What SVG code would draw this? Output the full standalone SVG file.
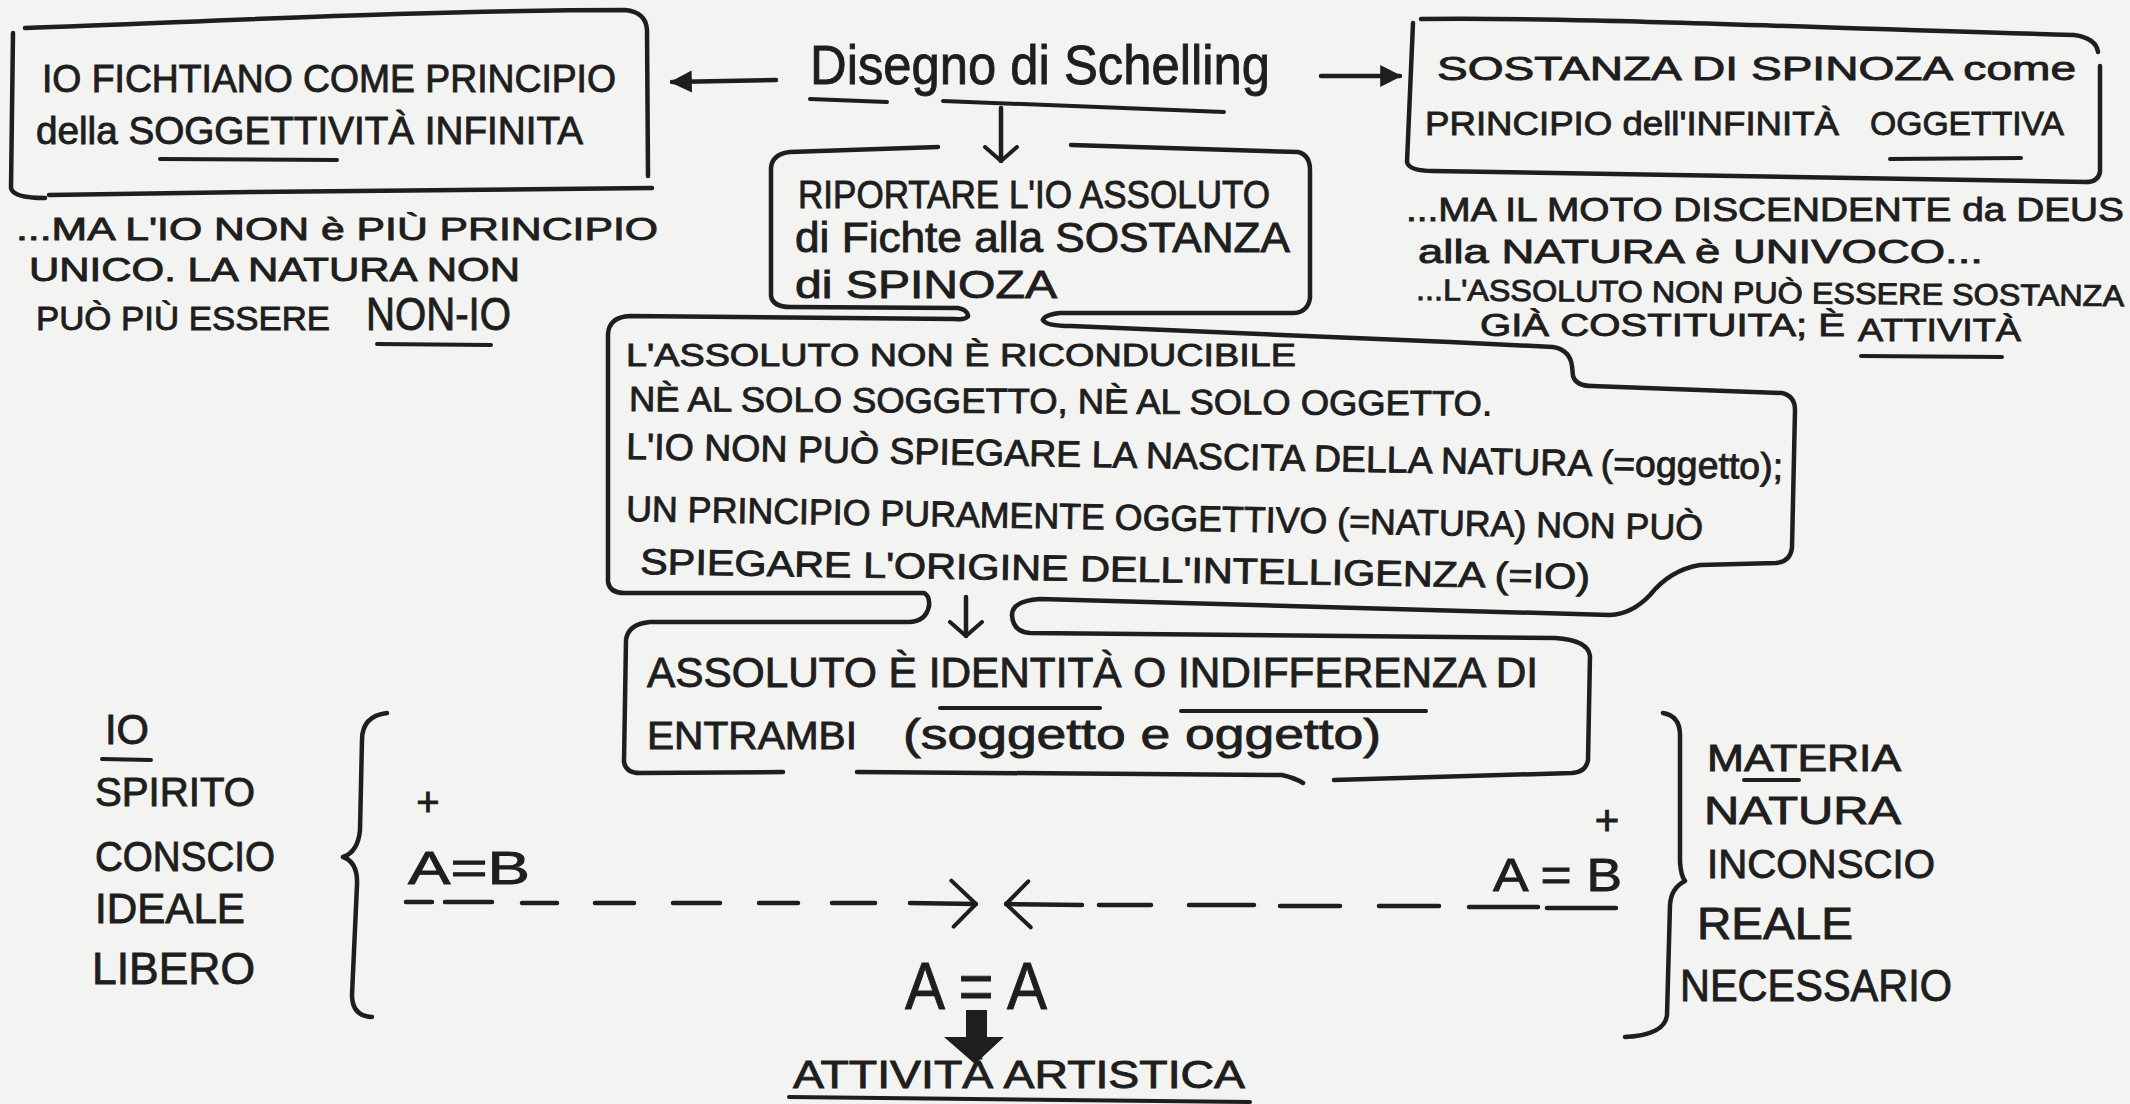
<svg xmlns="http://www.w3.org/2000/svg" width="2130" height="1104" viewBox="0 0 2130 1104">
<style>
.ink{fill:none;stroke:#1e1e1e;stroke-width:4.5;stroke-linecap:round;stroke-linejoin:round}
.ul{fill:none;stroke:#1e1e1e;stroke-width:4;stroke-linecap:round}
.t{font-family:"Liberation Sans",Arial,sans-serif;fill:#1e1e1e;stroke:#1e1e1e;stroke-width:0.9}
</style>
<defs>
<marker id="fillhead" viewBox="0 0 10 10" refX="9" refY="5" markerUnits="userSpaceOnUse" markerWidth="22" markerHeight="26" orient="auto"><path d="M0,0 L10,5 L0,10 Z" fill="#1e1e1e"/></marker>
<marker id="vhead" viewBox="0 0 18 36" refX="16" refY="18" markerUnits="userSpaceOnUse" markerWidth="18" markerHeight="36" orient="auto"><path d="M2,2 L16,18 L2,34" fill="none" stroke="#1e1e1e" stroke-width="4" stroke-linecap="round" stroke-linejoin="round"/></marker>
<marker id="chev" viewBox="0 0 30 52" refX="28" refY="26" markerUnits="userSpaceOnUse" markerWidth="30" markerHeight="52" orient="auto"><path d="M3,3 L28,26 L6,49" fill="none" stroke="#1e1e1e" stroke-width="4" stroke-linecap="round" stroke-linejoin="round"/></marker>
</defs>
<rect width="2130" height="1104" fill="#f3f3f1"/>

<g id="n-fichte">
<path class="ink" d="M25,28 C200,22 420,10 625,10 Q646,12 647,30 L648,176"/>
<path class="ink" d="M13,33 L11,188 Q13,198 45,198"/>
<path class="ink" d="M49,195 C250,192 450,189 652,188"/>
<text class="t" x="42" y="92" font-size="38" textLength="574" lengthAdjust="spacingAndGlyphs">IO FICHTIANO COME PRINCIPIO</text>
<text class="t" x="36" y="144" font-size="38" textLength="547" lengthAdjust="spacingAndGlyphs">della SOGGETTIVITÀ INFINITA</text>
<path class="ul" d="M160,159 L337,160"/>
</g>

<g id="n-fichte-note">
<text class="t" x="16" y="240" font-size="32" textLength="642" lengthAdjust="spacingAndGlyphs">...MA L'IO NON è PIÙ PRINCIPIO</text>
<text class="t" x="29" y="281" font-size="33" textLength="491" lengthAdjust="spacingAndGlyphs">UNICO. LA NATURA NON</text>
<text class="t" x="36" y="330" font-size="34" textLength="294" lengthAdjust="spacingAndGlyphs">PUÒ PIÙ ESSERE</text>
<text class="t" x="366" y="330" font-size="46" textLength="145" lengthAdjust="spacingAndGlyphs">NON-IO</text>
<path class="ul" d="M377,344 L491,345"/>
</g>

<g id="n-schelling">
<text class="t" x="810" y="84" font-size="56" textLength="460" lengthAdjust="spacingAndGlyphs">Disegno di Schelling</text>
<path class="ul" d="M810,99 L887,102"/>
<path class="ul" d="M943,101 L1224,112"/>
</g>

<g id="n-spinoza">
<path class="ink" d="M1421,19 C1560,17 1760,26 2074,35 Q2096,38 2098,52"/>
<path class="ink" d="M2100,66 L2100,172 Q2098,182 2086,182"/>
<path class="ink" d="M1413,23 L1407,162 Q1409,171 1433,171 C1700,175 1900,180 2086,182"/>
<text class="t" x="1437" y="80" font-size="34" textLength="639" lengthAdjust="spacingAndGlyphs">SOSTANZA DI SPINOZA come</text>
<text class="t" x="1425" y="135" font-size="34" textLength="414" lengthAdjust="spacingAndGlyphs">PRINCIPIO dell'INFINITÀ</text>
<text class="t" x="1870" y="135" font-size="34" textLength="194" lengthAdjust="spacingAndGlyphs">OGGETTIVA</text>
<path class="ul" d="M1890,159 L2021,158"/>
</g>

<g id="n-spinoza-note">
<text class="t" x="1406" y="221" font-size="34" textLength="718" lengthAdjust="spacingAndGlyphs">...MA IL MOTO DISCENDENTE da DEUS</text>
<text class="t" x="1418" y="263" font-size="34" textLength="565" lengthAdjust="spacingAndGlyphs">alla NATURA è UNIVOCO...</text>
<text class="t" x="1416" y="300" font-size="30" textLength="708" lengthAdjust="spacingAndGlyphs" transform="rotate(0.5 1416 300)">...L'ASSOLUTO NON PUÒ ESSERE SOSTANZA</text>
<text class="t" x="1480" y="336" font-size="32" textLength="365" lengthAdjust="spacingAndGlyphs">GIÀ COSTITUITA; È</text>
<text class="t" x="1858" y="341" font-size="32" textLength="163" lengthAdjust="spacingAndGlyphs">ATTIVITÀ</text>
<path class="ul" d="M1861,356 L2002,357"/>
</g>

<g id="n-riportare">
<path class="ink" d="M938,147 L790,152 Q772,154 771,168 L771,296 Q773,307 790,307 L958,308 Q968,310 968,316"/>
<path class="ink" d="M1071,145 L1298,152 Q1310,155 1310,170 L1310,298 Q1308,312 1294,313 L1060,313 Q1044,315 1043,320"/>
<text class="t" x="798" y="208" font-size="38" textLength="472" lengthAdjust="spacingAndGlyphs">RIPORTARE L'IO ASSOLUTO</text>
<text class="t" x="795" y="252" font-size="42" textLength="495" lengthAdjust="spacingAndGlyphs">di Fichte alla SOSTANZA</text>
<text class="t" x="795" y="298" font-size="39" textLength="262" lengthAdjust="spacingAndGlyphs">di SPINOZA</text>
</g>

<g id="n-riconducibile">
<path class="ink" d="M968,316 Q966,320 955,319 L630,316 Q609,317 608,334 L608,582 Q610,593 624,593 L924,593 Q930,596 929,606"/>
<path class="ink" d="M1043,320 Q1046,326 1071,326 L1450,342 L1553,347 Q1570,350 1572,366 L1573,376 Q1576,386 1592,386 L1782,393 Q1795,396 1795,410 L1792,548 Q1790,562 1776,563 L1700,565 Q1670,570 1650,595 Q1632,614 1610,615 L1040,599 Q1012,601 1012,615"/>
<text class="t" x="626" y="366" font-size="32" textLength="670" lengthAdjust="spacingAndGlyphs">L'ASSOLUTO NON È RICONDUCIBILE</text>
<text class="t" x="629" y="411" font-size="35" textLength="863" lengthAdjust="spacingAndGlyphs" transform="rotate(0.3 629 411)">NÈ AL SOLO SOGGETTO, NÈ AL SOLO OGGETTO.</text>
<text class="t" x="626" y="459" font-size="37" textLength="1157" lengthAdjust="spacingAndGlyphs" transform="rotate(1 626 459)">L'IO NON PUÒ SPIEGARE LA NASCITA DELLA NATURA (=oggetto);</text>
<text class="t" x="626" y="521" font-size="36" textLength="1077" lengthAdjust="spacingAndGlyphs" transform="rotate(1 626 521)">UN PRINCIPIO PURAMENTE OGGETTIVO (=NATURA) NON PUÒ</text>
<text class="t" x="640" y="574" font-size="36" textLength="950" lengthAdjust="spacingAndGlyphs" transform="rotate(0.9 640 574)">SPIEGARE L'ORIGINE DELL'INTELLIGENZA (=IO)</text>
</g>

<g id="n-identita">
<path class="ink" d="M929,606 Q926,621 910,622 L650,622 Q628,624 626,640 L624,762 Q626,773 640,773 L783,772"/>
<path class="ink" d="M857,772 L1282,775 Q1295,778 1303,783"/>
<path class="ink" d="M1012,615 Q1013,632 1030,633 L1555,638 Q1588,640 1590,656 L1588,760 Q1586,772 1572,773 L1334,780"/>
<text class="t" x="647" y="687" font-size="42" textLength="891" lengthAdjust="spacingAndGlyphs">ASSOLUTO È IDENTITÀ O INDIFFERENZA DI</text>
<path class="ul" d="M940,708 L1100,708"/>
<path class="ul" d="M1181,711 L1426,711"/>
<text class="t" x="647" y="749" font-size="38" textLength="210" lengthAdjust="spacingAndGlyphs">ENTRAMBI</text>
<text class="t" x="903" y="749" font-size="42" textLength="478" lengthAdjust="spacingAndGlyphs">(soggetto e oggetto)</text>
</g>

<g id="n-io">
<text class="t" x="105" y="744" font-size="42" textLength="44" lengthAdjust="spacingAndGlyphs">IO</text>
<path class="ul" d="M102,759 L151,760"/>
<text class="t" x="95" y="806" font-size="40" textLength="160" lengthAdjust="spacingAndGlyphs">SPIRITO</text>
<text class="t" x="95" y="871" font-size="42" textLength="180" lengthAdjust="spacingAndGlyphs">CONSCIO</text>
<text class="t" x="95" y="923" font-size="42" textLength="150" lengthAdjust="spacingAndGlyphs">IDEALE</text>
<text class="t" x="92" y="984" font-size="44" textLength="163" lengthAdjust="spacingAndGlyphs">LIBERO</text>
<path class="ink" d="M387,713 Q362,716 362,740 L360,830 Q358,852 343,857 Q358,862 357,885 L352,995 Q352,1016 372,1017"/>
</g>

<g id="n-ab-left">
<text class="t" x="428" y="816" font-size="40" text-anchor="middle">+</text>
<text class="t" x="408" y="884" font-size="46" textLength="122" lengthAdjust="spacingAndGlyphs">A=B</text>
</g>

<g id="n-ab-right">
<text class="t" x="1607" y="835" font-size="42" text-anchor="middle">+</text>
<text class="t" x="1493" y="891" font-size="46" textLength="129" lengthAdjust="spacingAndGlyphs">A = B</text>
</g>

<g id="n-materia">
<text class="t" x="1707" y="771" font-size="36" textLength="194" lengthAdjust="spacingAndGlyphs">MATERIA</text>
<path class="ul" d="M1744,780 L1799,780"/>
<text class="t" x="1704" y="824" font-size="38" textLength="197" lengthAdjust="spacingAndGlyphs">NATURA</text>
<text class="t" x="1707" y="878" font-size="40" textLength="228" lengthAdjust="spacingAndGlyphs">INCONSCIO</text>
<text class="t" x="1697" y="939" font-size="44" textLength="156" lengthAdjust="spacingAndGlyphs">REALE</text>
<text class="t" x="1680" y="1001" font-size="44" textLength="272" lengthAdjust="spacingAndGlyphs">NECESSARIO</text>
<path class="ink" d="M1663,713 Q1680,716 1680,735 L1680,862 Q1681,876 1685,881 Q1671,888 1670,905 L1667,1015 Q1665,1035 1625,1037"/>
</g>

<g id="n-aa">
<text class="t" x="905" y="1009" font-size="66" textLength="142" lengthAdjust="spacingAndGlyphs">A = A</text>
</g>

<g id="n-artistica">
<text class="t" x="793" y="1088" font-size="38" textLength="452" lengthAdjust="spacingAndGlyphs">ATTIVITÀ ARTISTICA</text>
<path class="ul" d="M789,1097 L1250,1102"/>
</g>

<g id="connectors">
<path class="ink" d="M776,80 L672,82" marker-end="url(#fillhead)"/>
<path class="ink" d="M1321,76 L1400,76" marker-end="url(#fillhead)"/>
<path class="ink" d="M1001,108 L1001,161" marker-end="url(#vhead)"/>
<path class="ink" d="M966,597 L966,636" marker-end="url(#vhead)"/>
<path class="ink" d="M406,902 L432,902 M445,902 L492,902 M522,903 L557,903 M595,903 L634,903 M673,903 L720,903 M759,903 L798,903 M832,903 L875,903 M910,903 L976,904" marker-end="url(#chev)"/>
<path class="ink" d="M1616,908 L1547,908 M1538,907 L1469,907 M1439,906 L1379,906 M1340,906 L1280,906 M1254,905 L1189,905 M1151,905 L1099,905 M1082,905 L1006,904" marker-end="url(#chev)"/>
<path d="M966,1010 L987,1010 L987,1037 L1004,1037 L975,1064 L944,1037 L966,1037 Z" fill="#1e1e1e"/>
</g>
</svg>
